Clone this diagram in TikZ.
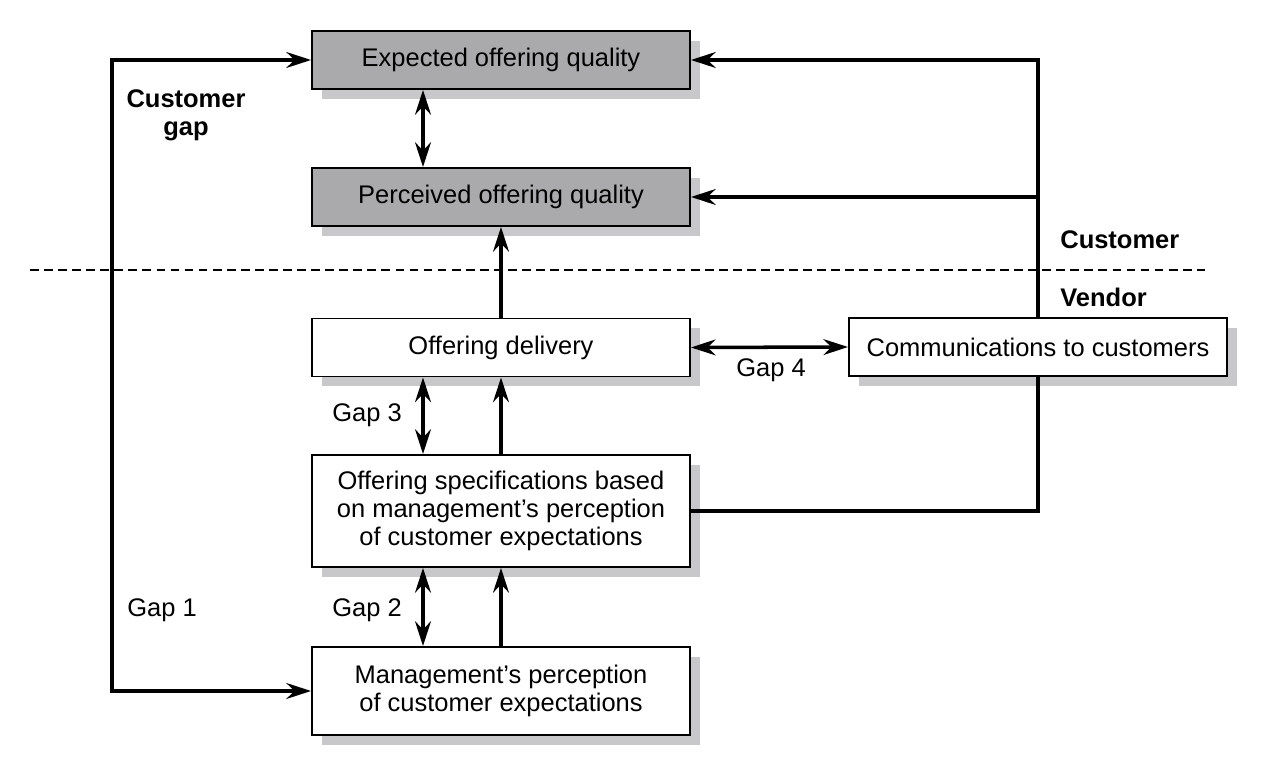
\documentclass[tikz,border=0pt]{standalone}
\usepackage{fontspec}
\setmainfont{Liberation Sans}
\usetikzlibrary{arrows.meta,shadows}
\definecolor{boxgray}{RGB}{170,170,173}
\definecolor{shadegray}{RGB}{200,200,202}
\begin{document}
\begin{tikzpicture}[font=\fontsize{14.5}{16}\selectfont,
      box/.style={draw,line width=1.1pt,fill=white,minimum width=7.56cm,minimum height=1.16cm,inner sep=0pt,align=center,
        drop shadow={shadow xshift=0.2cm,shadow yshift=-0.2cm,fill=shadegray,opacity=1}},
      greybox/.style={box,fill=boxgray},
      oneway/.style={line width=2pt,-{Stealth[length=14pt,width=9pt]}},
      twoway/.style={line width=2pt,{Stealth[length=14pt,width=9pt]}-{Stealth[length=14pt,width=9pt]}},
      gaplabel/.style={inner sep=0pt}]
      \useasboundingbox (0,0) rectangle (25.36,15.42);
      \node[greybox] (exp) at (10.02,14.22) {Expected offering quality};
      \node[greybox] (perc) at (10.02,11.48) {Perceived offering quality};
      \node[box] (deliv) at (10.02,8.47) {Offering delivery};
      \node[box] (comm) at (20.76,8.48) {Communications to customers};
      \node[box,minimum height=2.24cm] (spec) at (10.02,5.20) {Offering specifications based\\on management’s perception\\of customer expectations};
      \node[box,minimum height=1.76cm] (mgmt) at (10.02,1.60) {Management’s perception\\of customer expectations};
      \coordinate (lft) at (2.24,0);
      \draw[dash pattern=on 5pt off 3pt,line width=0.6pt] (0.6,10.02) -- (24.1,10.02);
      \node[gaplabel,font=\fontsize{14.5}{16}\selectfont\bfseries,align=center] (custgap) at (3.72,13.12) {Customer\\gap};
      \node[gaplabel,font=\fontsize{14.5}{16}\selectfont\bfseries,anchor=west] (cust) at (21.2,10.62) {Customer};
      \node[gaplabel,font=\fontsize{14.5}{16}\selectfont\bfseries,anchor=west] (vend) at (21.2,9.48) {Vendor};
      \node[gaplabel] (gap1) at (3.24,3.22) {Gap 1};
      \node[gaplabel] (gap2) at (7.34,3.22) {Gap 2};
      \node[gaplabel] (gap3) at (7.34,7.12) {Gap 3};
      \node[gaplabel] (gap4) at (15.42,8.02) {Gap 4};
      \draw[twoway] ([xshift=-1.56cm]exp.south) -- ([xshift=-1.56cm]perc.north);
      \draw[oneway] (deliv.north) -- (perc.south);
      \draw[twoway] ([xshift=-1.56cm]deliv.south) -- ([xshift=-1.56cm]spec.north);
      \draw[oneway] (spec.north) -- (deliv.south);
      \draw[twoway] ([xshift=-1.56cm]spec.south) -- ([xshift=-1.56cm]mgmt.north);
      \draw[oneway] (mgmt.north) -- (spec.south);
      \draw[twoway] (deliv.east) -- (comm.west);
      \draw[oneway] (comm.north) |- (exp.east);
      \draw[oneway] (comm.north |- perc.east) -- (perc.east);
      \draw[line width=2pt] (comm.south) |- (spec.east);
      \draw[twoway] (exp.west) -- (exp.west -| lft) -- (mgmt.west -| lft) -- (mgmt.west);
\end{tikzpicture}
\end{document}
